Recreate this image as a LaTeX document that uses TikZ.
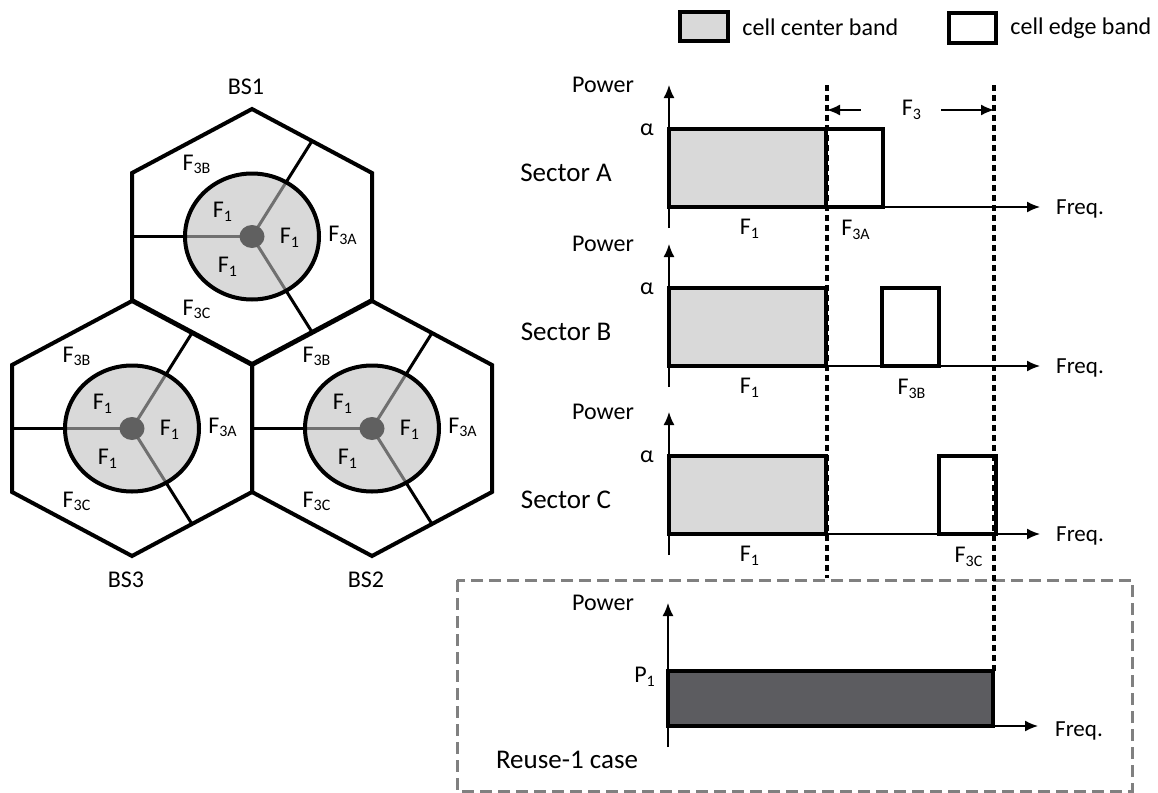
\documentclass[tikz,border=0pt]{standalone}
\usepackage{fontspec}
\setmainfont{Carlito}
\usetikzlibrary{
	arrows.meta
}
\definecolor{BandGray}{RGB}{217,217,217}
\definecolor{SpokeGray}{RGB}{112,112,112}
\definecolor{DotGray}{RGB}{96,96,96}
\definecolor{ReuseGray}{RGB}{92,92,96}
\definecolor{FrameGray}{RGB}{128,128,128}

\tikzset{
	txt/.style={font=\fontsize{12}{14}\selectfont, inner sep=0pt},
	bigtxt/.style={font=\fontsize{13.5}{16}\selectfont, inner sep=0pt},
	hexline/.style={line width=2pt, line join=miter},
	spoke/.style={line width=1.5pt},
	bandbox/.style={draw, line width=2pt},
	centerband/.style={bandbox, fill=BandGray},
	edgeband/.style={bandbox, fill=white},
	axisline/.style={line width=0.8pt, -{Latex[length=6.5pt,width=5.5pt]}},
	bandsep/.style={line width=2pt, dash pattern=on 3pt off 2pt},
	reuseframe/.style={FrameGray, line width=1.5pt, dash pattern=on 6pt off 3pt}
}

\begin{document}
\begin{tikzpicture}[x=0.5pt, y=-0.5pt]
	
	\useasboundingbox (0,0) rectangle (1158,793);
	
	% legend
	\draw[centerband] (680,12) rectangle (728,41);
	\node[txt, anchor=west] (leg-center) at (742,27) {cell center band};
	\draw[edgeband] (949,13) rectangle (996,43);
	\node[txt, anchor=west] (leg-edge) at (1010,28) {cell edge band};
	
	% cells
	\foreach \cx/\cy/\bs/\bsdy in {252/236.5/BS1/-150, 132/428.5/BS3/151, 372/428.5/BS2/151}{
		\begin{scope}[shift={(\cx,\cy)}]
			\draw[hexline]
			(0,-127.5) -- (120,-63.5) -- (120,63.5) -- (0,127.5)
			-- (-120,63.5) -- (-120,-63.5) -- cycle;
			\coordinate (\bs-c) at (0,0);
			\coordinate (\bs-w) at (-120,0);
			\coordinate (\bs-ne) at (60,-95.5);
			\coordinate (\bs-se) at (60,95.5);
			\draw[spoke] (\bs-c) -- (\bs-w);
			\draw[spoke] (\bs-c) -- (\bs-ne);
			\draw[spoke] (\bs-c) -- (\bs-se);
			\fill[BandGray] (0,0) ellipse [x radius=67, y radius=63];
			\begin{scope}
				\clip (0,0) ellipse [x radius=67, y radius=63];
				\draw[spoke, SpokeGray] (\bs-c) -- (\bs-w);
				\draw[spoke, SpokeGray] (\bs-c) -- (\bs-ne);
				\draw[spoke, SpokeGray] (\bs-c) -- (\bs-se);
			\end{scope}
			\draw[hexline] (0,0) ellipse [x radius=67, y radius=63];
			\fill[DotGray] (0,0) ellipse [x radius=12.5, y radius=11.5];
			\node[txt] (\bs-f1a) at (-29,-25) {F\textsubscript{1}};
			\node[txt] (\bs-f1b) at (38,1) {F\textsubscript{1}};
			\node[txt] (\bs-f1c) at (-24,30) {F\textsubscript{1}};
			\node[txt] (\bs-f3a) at (91,-1) {F\textsubscript{3A}};
			\node[txt] (\bs-f3b) at (-55,-72) {F\textsubscript{3B}};
			\node[txt] (\bs-f3c) at (-55,73) {F\textsubscript{3C}};
			\node[txt] (\bs-name) at (-6,\bsdy) {\bs};
		\end{scope}
	}
	
	% sector charts
	\foreach \sec/\base/\ex in {A/207/826, B/366/882, C/534/939}{
		\coordinate (o-\sec) at (669,\base);
		\coordinate (ybot-\sec) at (669,\base+21);
		\coordinate (ytop-\sec) at (669,\base-122);
		\coordinate (xend-\sec) at (1040,\base);
		\draw[centerband] (669,\base-78) rectangle (826,\base);
		\draw[edgeband] (\ex,\base-78) rectangle (\ex+57,\base);
		\draw[axisline] (ybot-\sec) -- (ytop-\sec);
		\draw[axisline] (o-\sec) -- (xend-\sec);
		\node[txt] (pow-\sec) at (603,\base-122) {Power};
		\node[txt] (alpha-\sec) at (647,\base-77) {α};
		\node[bigtxt] (sec-\sec) at (566,\base-34) {Sector \sec};
		\node[txt] (f1-\sec) at (750,\base+22) {F\textsubscript{1}};
		\node[txt] (f3-\sec) at (\ex+30,\base+23) {F\textsubscript{3\sec}};
		\node[txt, font=\fontsize{11.5}{14}\selectfont] (freq-\sec) at (1080,\base+2) {Freq.};
	}
	
	% reuse-1 case
	\draw[reuseframe] (457,580) rectangle (1132,791);
	\coordinate (o-R) at (668,726);
	\coordinate (ybot-R) at (668,747);
	\coordinate (ytop-R) at (668,603);
	\coordinate (xend-R) at (1038,726);
	\draw[bandbox, fill=ReuseGray] (668,671) rectangle (993,726);
	\draw[axisline] (ybot-R) -- (ytop-R);
	\draw[axisline] (o-R) -- (xend-R);
	\node[txt] (pow-R) at (603,603) {Power};
	\node[txt] (p1) at (645,677) {P\textsubscript{1}};
	\node[txt, font=\fontsize{11.5}{14}\selectfont] (freq-R) at (1079,731) {Freq.};
	\node[bigtxt] (reuse) at (567,760) {Reuse-1 case};
	
	% F3 span
	\coordinate (sepL-top) at (827,85);
	\coordinate (sepL-bot) at (827,578);
	\coordinate (sepR-top) at (994,85);
	\coordinate (sepR-bot) at (994,671);
	\draw[bandsep] (sepL-top) -- (sepL-bot);
	\draw[bandsep] (sepR-top) -- (sepR-bot);
	\node[txt] (f3) at (912,110) {F\textsubscript{3}};
	\draw[axisline] ([xshift=-20.5pt]f3.west) -- (sepL-top |- f3);
	\draw[axisline] ([xshift=9.5pt]f3.east) -- (sepR-top |- f3);
	
\end{tikzpicture}
\end{document}
